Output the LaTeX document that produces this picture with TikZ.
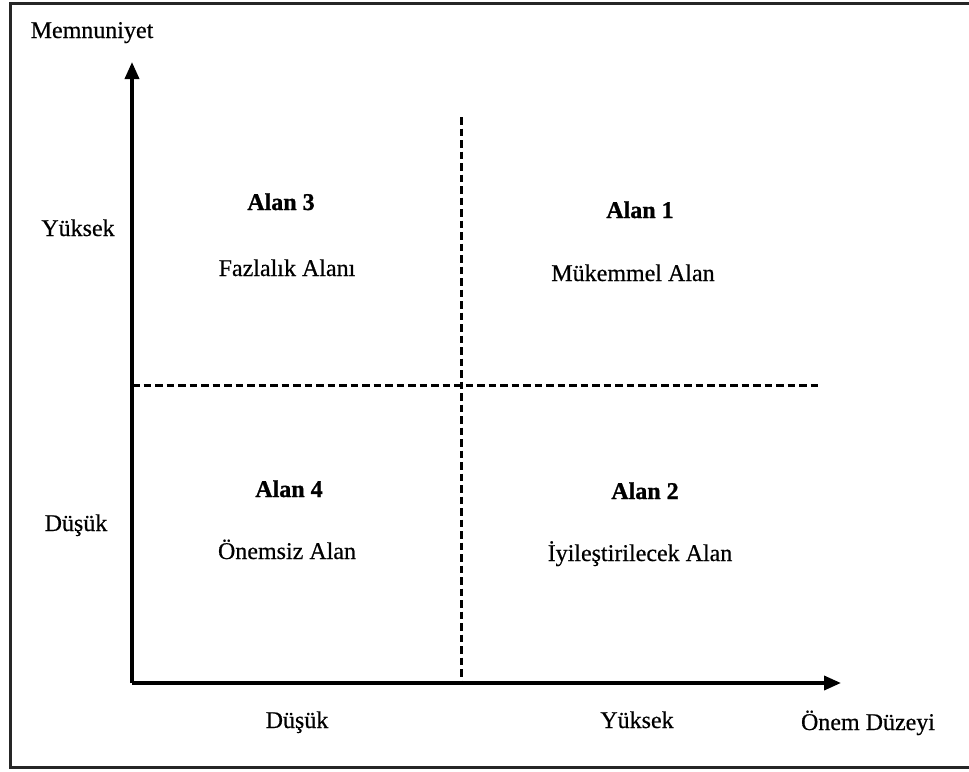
\documentclass[tikz,border=0pt]{standalone}
\usepackage{fontspec}
\setmainfont{Liberation Serif}[FakeBold=0.5, BoldFeatures={FakeBold=1.0}]
\usetikzlibrary{arrows.meta}
\begin{document}
\begin{tikzpicture}[x=1pt,y=-1pt,
  lbl/.style={font=\fontsize{24}{28}\selectfont, inner sep=0pt, anchor=base},
  ttl/.style={lbl, font=\fontsize{24}{28}\selectfont\bfseries},
  axis/.style={line width=3.6pt, -{Triangle[length=17pt,width=14pt]}},
  divider/.style={line width=3pt, dash pattern=on 7.5pt off 4pt}]
\useasboundingbox (0,0) rectangle (969,771);
% outer frame
\draw[line width=3pt, black!85] (10,3) rectangle (980,767);

% axes
\coordinate (O) at (132,683);
\coordinate (ytip) at (132,62);
\coordinate (xtip) at (841,683);
\draw[axis] (O) -- (ytip);
\draw[axis] (O) -- (xtip);

% quadrant dividers
\coordinate (hl) at (132,385);
\coordinate (hr) at (818,385);
\coordinate (vt) at (461,117);
\coordinate (vb) at (461,683);
\draw[divider] (hl) -- (hr);
\draw[divider] (vt) -- (vb);

% axis titles and levels
\node[lbl] (ytitle) at (92,38) {Memnuniyet};
\node[lbl] (xtitle) at (868,730) {Önem Düzeyi};
\node[lbl] (yhigh) at (78,236) {Yüksek};
\node[lbl] (ylow) at (76,531) {Düşük};
\node[lbl] (xlow) at (297,728) {Düşük};
\node[lbl] (xhigh) at (637,728) {Yüksek};

% quadrants
\node[ttl] (a3) at (281,210) {Alan 3};
\node[lbl] (a3t) at (287,276) {Fazlalık Alanı};
\node[ttl] (a1) at (640,218) {Alan 1};
\node[lbl] (a1t) at (633,281) {Mükemmel Alan};
\node[ttl] (a4) at (289,497) {Alan 4};
\node[lbl] (a4t) at (287,559) {Önemsiz Alan};
\node[ttl] (a2) at (645,499) {Alan 2};
\node[lbl] (a2t) at (640,561) {İyileştirilecek Alan};
\end{tikzpicture}
\end{document}
